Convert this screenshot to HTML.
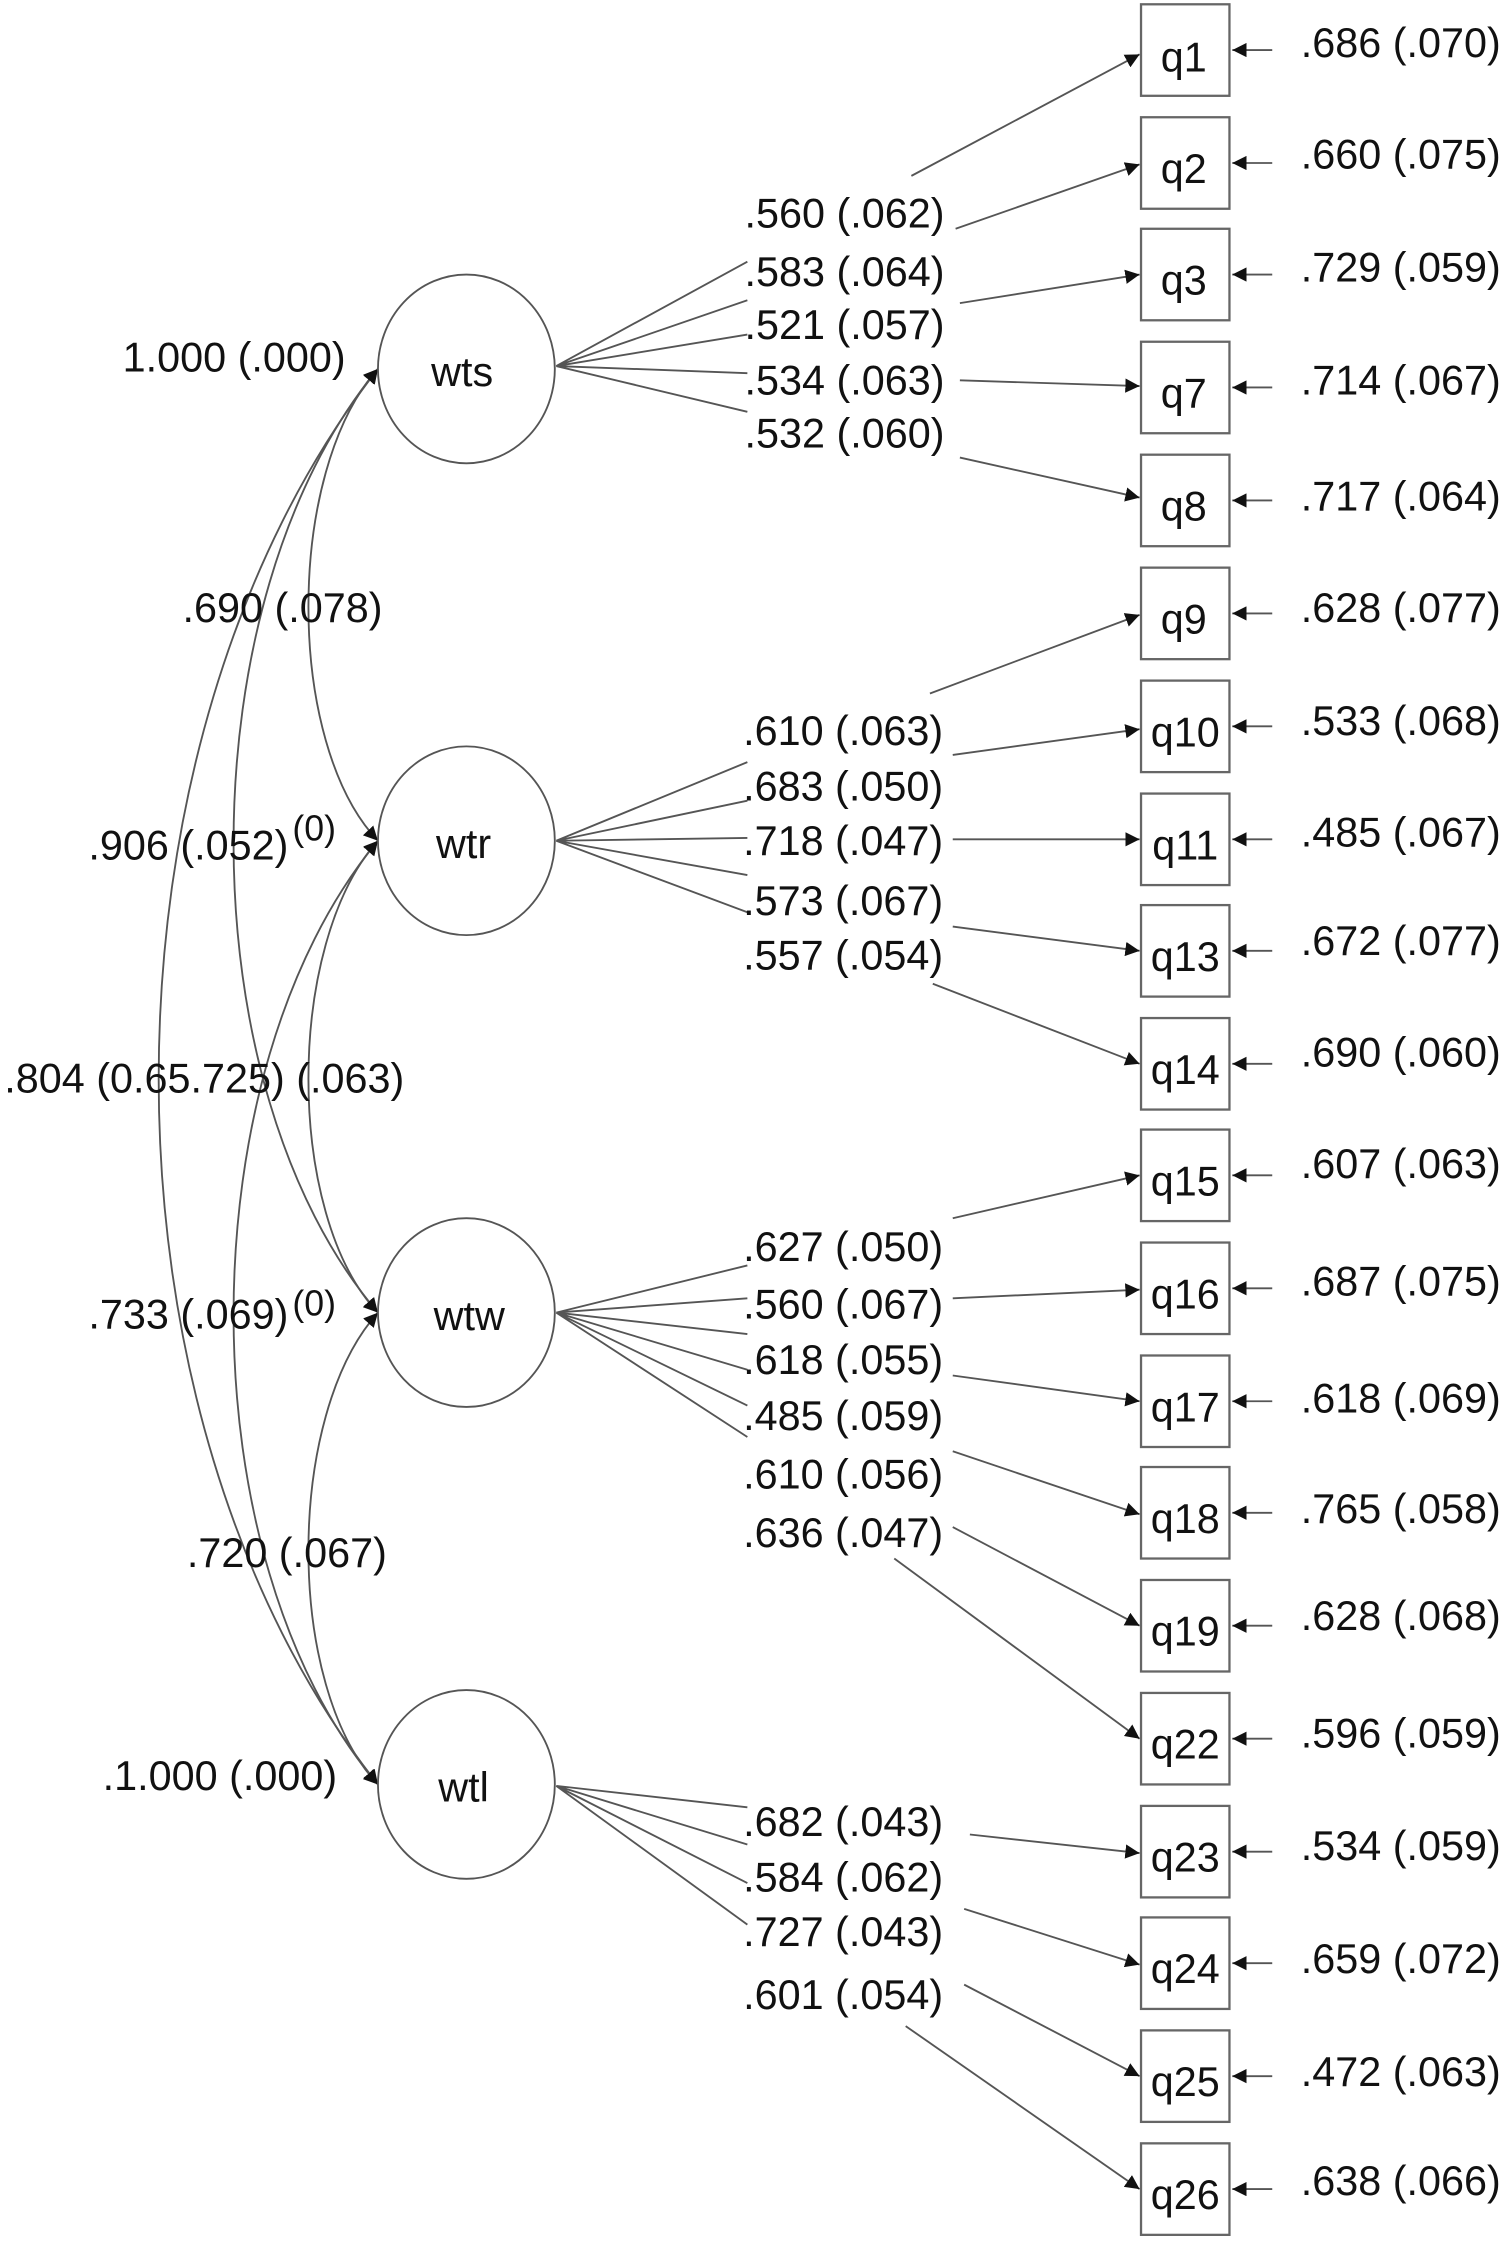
<!DOCTYPE html>
<html><head><meta charset="utf-8"><style>
html,body{margin:0;padding:0;background:#fff;}
svg{display:block;}
text{font-family:"Liberation Sans",sans-serif;font-size:29px;fill:#111;}
</style></head><body>
<svg width="1509" height="2242" viewBox="0 0 1058 1568" preserveAspectRatio="none" xmlns="http://www.w3.org/2000/svg">
<defs>
<marker id="a" viewBox="0 0 10 10" refX="10" refY="5" markerWidth="10" markerHeight="10" markerUnits="userSpaceOnUse" orient="auto-start-reverse"><path d="M0,0 L10,5 L0,10 z" fill="#111"/></marker>
</defs>
<g fill="none" stroke="#555" stroke-width="1.3">
<path d="M265,258 C200,330 200,520 265,588" marker-start="url(#a)" marker-end="url(#a)"/>
<path d="M265,258 C130,420 130,760 265,918" marker-start="url(#a)" marker-end="url(#a)"/>
<path d="M265,258 C60,520 60,990 265,1248" marker-start="url(#a)" marker-end="url(#a)"/>
<path d="M265,588 C200,660 200,850 265,918" marker-start="url(#a)" marker-end="url(#a)"/>
<path d="M265,588 C130,750 130,1090 265,1248" marker-start="url(#a)" marker-end="url(#a)"/>
<path d="M265,918 C200,990 200,1180 265,1248" marker-start="url(#a)" marker-end="url(#a)"/>
<ellipse cx="327" cy="258" rx="62" ry="66"/>
<ellipse cx="327" cy="588" rx="62" ry="66"/>
<ellipse cx="327" cy="918" rx="62" ry="66"/>
<ellipse cx="327" cy="1248" rx="62" ry="66"/>
<path d="M390,256 L524,183 M390,256 L524,210 M390,256 L524,234 M390,256 L524,261 M390,256 L524,288"/>
<path d="M390,588 L524,533 M390,588 L524,560 M390,588 L524,586 M390,588 L524,612 M390,588 L524,638"/>
<path d="M390,918 L524,885 M390,918 L524,908 M390,918 L524,933 M390,918 L524,958 M390,918 L524,983 M390,918 L524,1005"/>
<path d="M390,1249 L524,1264 M390,1249 L524,1290 M390,1249 L524,1317 M390,1249 L524,1346"/>
<g marker-end="url(#a)">
<path d="M639,123 L799,38"/>
<path d="M670,160 L799,115"/>
<path d="M673,212 L799,192"/>
<path d="M673,266 L799,270"/>
<path d="M673,320 L799,348"/>
<path d="M652,485 L799,430"/>
<path d="M668,528 L799,510"/>
<path d="M668,587 L799,587"/>
<path d="M668,648 L799,665"/>
<path d="M654,688 L799,744"/>
<path d="M668,852 L799,822"/>
<path d="M668,908 L799,902"/>
<path d="M668,962 L799,980"/>
<path d="M668,1015 L799,1059"/>
<path d="M668,1068 L799,1137"/>
<path d="M627,1090 L799,1216"/>
<path d="M680,1283 L799,1296"/>
<path d="M676,1335 L799,1374"/>
<path d="M676,1388 L799,1452"/>
<path d="M635,1417 L799,1531"/>
<path d="M892,35 L864,35"/><path d="M892,114 L864,114"/><path d="M892,192 L864,192"/><path d="M892,271 L864,271"/><path d="M892,350 L864,350"/>
<path d="M892,429 L864,429"/><path d="M892,508 L864,508"/><path d="M892,587 L864,587"/><path d="M892,665 L864,665"/><path d="M892,744 L864,744"/>
<path d="M892,822 L864,822"/><path d="M892,901 L864,901"/><path d="M892,980 L864,980"/><path d="M892,1058 L864,1058"/><path d="M892,1137 L864,1137"/>
<path d="M892,1216 L864,1216"/><path d="M892,1295 L864,1295"/><path d="M892,1373 L864,1373"/><path d="M892,1452 L864,1452"/><path d="M892,1531 L864,1531"/>
</g>
<g stroke="#666" stroke-width="1.6">
<rect x="800" y="3" width="62" height="64"/><rect x="800" y="82" width="62" height="64"/><rect x="800" y="160" width="62" height="64"/><rect x="800" y="239" width="62" height="64"/><rect x="800" y="318" width="62" height="64"/>
<rect x="800" y="397" width="62" height="64"/><rect x="800" y="476" width="62" height="64"/><rect x="800" y="555" width="62" height="64"/><rect x="800" y="633" width="62" height="64"/><rect x="800" y="712" width="62" height="64"/>
<rect x="800" y="790" width="62" height="64"/><rect x="800" y="869" width="62" height="64"/><rect x="800" y="948" width="62" height="64"/><rect x="800" y="1026" width="62" height="64"/><rect x="800" y="1105" width="62" height="64"/>
<rect x="800" y="1184" width="62" height="64"/><rect x="800" y="1263" width="62" height="64"/><rect x="800" y="1341" width="62" height="64"/><rect x="800" y="1420" width="62" height="64"/><rect x="800" y="1499" width="62" height="64"/>
</g>
</g>
<g text-anchor="middle" style="font-size:33px">
<text x="324" y="270">wts</text><text x="325" y="600">wtr</text><text x="329" y="930">wtw</text><text x="325" y="1260">wtl</text>
</g>
<g text-anchor="middle" style="font-size:30px">
<text x="830" y="50">q1</text><text x="830" y="128">q2</text><text x="830" y="206">q3</text><text x="830" y="285">q7</text><text x="830" y="364">q8</text>
<text x="830" y="443">q9</text><text x="831" y="522">q10</text><text x="831" y="601">q11</text><text x="831" y="679">q13</text><text x="831" y="758">q14</text>
<text x="831" y="836">q15</text><text x="831" y="915">q16</text><text x="831" y="994">q17</text><text x="831" y="1072">q18</text><text x="831" y="1151">q19</text>
<text x="831" y="1230">q22</text><text x="831" y="1309">q23</text><text x="831" y="1387">q24</text><text x="831" y="1466">q25</text><text x="831" y="1545">q26</text>
</g>
<g>
<text x="912" y="40">.686 (.070)</text><text x="912" y="118">.660 (.075)</text><text x="912" y="197">.729 (.059)</text><text x="912" y="276">.714 (.067)</text><text x="912" y="357">.717 (.064)</text>
<text x="912" y="435">.628 (.077)</text><text x="912" y="514">.533 (.068)</text><text x="912" y="592">.485 (.067)</text><text x="912" y="668">.672 (.077)</text><text x="912" y="746">.690 (.060)</text>
<text x="912" y="824">.607 (.063)</text><text x="912" y="906">.687 (.075)</text><text x="912" y="988">.618 (.069)</text><text x="912" y="1065">.765 (.058)</text><text x="912" y="1140">.628 (.068)</text>
<text x="912" y="1222">.596 (.059)</text><text x="912" y="1301">.534 (.059)</text><text x="912" y="1380">.659 (.072)</text><text x="912" y="1459">.472 (.063)</text><text x="912" y="1535">.638 (.066)</text>
</g>
<g>
<text x="522" y="159">.560 (.062)</text><text x="522" y="200">.583 (.064)</text><text x="522" y="237">.521 (.057)</text><text x="522" y="276">.534 (.063)</text><text x="522" y="313">.532 (.060)</text>
<text x="521" y="521">.610 (.063)</text><text x="521" y="560">.683 (.050)</text><text x="521" y="598">.718 (.047)</text><text x="521" y="640">.573 (.067)</text><text x="521" y="678">.557 (.054)</text>
<text x="521" y="882">.627 (.050)</text><text x="521" y="922">.560 (.067)</text><text x="521" y="961">.618 (.055)</text><text x="521" y="1000">.485 (.059)</text><text x="521" y="1041">.610 (.056)</text><text x="521" y="1082">.636 (.047)</text>
<text x="521" y="1284">.682 (.043)</text><text x="521" y="1323">.584 (.062)</text><text x="521" y="1361">.727 (.043)</text><text x="521" y="1405">.601 (.054)</text>
</g>
<g>
<text x="86" y="260">1.000 (.000)</text>
<text x="128" y="435">.690 (.078)</text>
<text x="62" y="601">.906 (.052)</text><text x="205" y="588" style="font-size:25px">(0)</text>
<text x="3" y="764">.804 (0.65.725) (.063)</text>
<text x="62" y="929">.733 (.069)</text><text x="205" y="920" style="font-size:25px">(0)</text>
<text x="131" y="1096">.720 (.067)</text>
<text x="72" y="1252">.1.000 (.000)</text>
</g>
</svg>
</body></html>
